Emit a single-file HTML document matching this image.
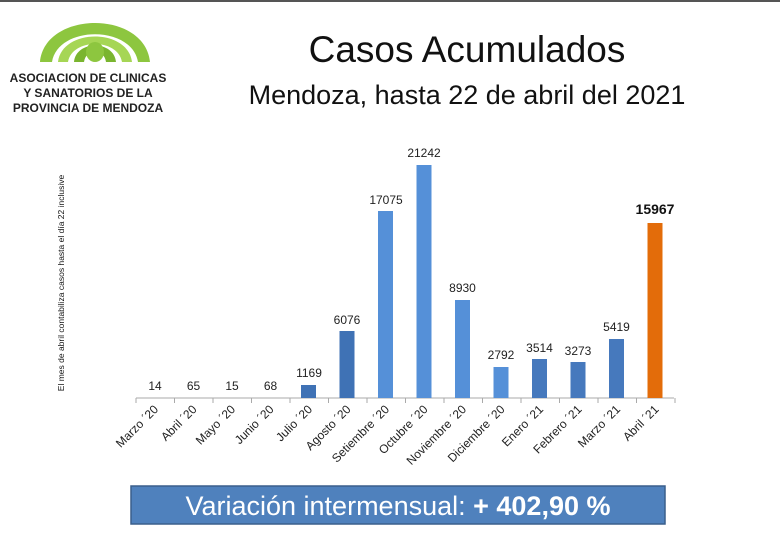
<!DOCTYPE html>
<html><head><meta charset="utf-8"><style>
body{margin:0;width:780px;height:549px;overflow:hidden;background:#fff;font-family:"Liberation Sans",sans-serif}
</style></head><body>
<svg width="780" height="549" xmlns="http://www.w3.org/2000/svg" font-family="Liberation Sans, sans-serif">
<rect x="0" y="0" width="780" height="2" fill="#555"/>
<g>
<path d="M40 62 C45 10,145 10,150 62 L138 62 C132 25,58 25,52 62 Z" fill="#8dc63f"/>
<path d="M58 62 C62 28,128 28,132 62 L122 62 C118 38,72 38,68 62 Z" fill="#a6d655"/>
<path d="M74 62 C76 40,114 40,116 62 L106 62 C104 48,86 48,84 62 Z" fill="#7ab52f"/>
<ellipse cx="95" cy="52" rx="9" ry="10" fill="#8dc63f"/>
<text x="88" y="82" font-size="12" font-weight="bold" text-anchor="middle" fill="#222">ASOCIACION DE CLINICAS</text>
<text x="88" y="97" font-size="12" font-weight="bold" text-anchor="middle" fill="#222">Y SANATORIOS DE LA</text>
<text x="88" y="112" font-size="12" font-weight="bold" text-anchor="middle" fill="#222">PROVINCIA DE MENDOZA</text>
</g>
<text x="467" y="62" font-size="37" text-anchor="middle" fill="#111">Casos Acumulados</text>
<text x="467" y="104" font-size="27" text-anchor="middle" fill="#111">Mendoza, hasta 22 de abril del 2021</text>
<text transform="translate(64,283) rotate(-90)" font-size="8.5" text-anchor="middle" fill="#111">El mes de abril contabiliza casos hasta el día  22  inclusive</text>
<line x1="136" y1="398" x2="674" y2="398" stroke="#aaa"/>
<g stroke="#aaa">
<line x1="136" y1="398" x2="136" y2="403"/><line x1="174.5" y1="398" x2="174.5" y2="403"/><line x1="213" y1="398" x2="213" y2="403"/><line x1="251.5" y1="398" x2="251.5" y2="403"/><line x1="290" y1="398" x2="290" y2="403"/><line x1="328.5" y1="398" x2="328.5" y2="403"/><line x1="367" y1="398" x2="367" y2="403"/><line x1="405.5" y1="398" x2="405.5" y2="403"/><line x1="444" y1="398" x2="444" y2="403"/><line x1="482.5" y1="398" x2="482.5" y2="403"/><line x1="521" y1="398" x2="521" y2="403"/><line x1="559.5" y1="398" x2="559.5" y2="403"/><line x1="598" y1="398" x2="598" y2="403"/><line x1="636.5" y1="398" x2="636.5" y2="403"/><line x1="675" y1="398" x2="675" y2="403"/>
</g>
<g>
<rect x="301" y="385" width="15" height="13" fill="#3f72b5"/>
<rect x="339.5" y="331" width="15" height="67" fill="#3f72b5"/>
<rect x="378" y="211" width="15" height="187" fill="#5590d8"/>
<rect x="416.5" y="165" width="15" height="233" fill="#5590d8"/>
<rect x="455" y="300" width="15" height="98" fill="#5590d8"/>
<rect x="493.5" y="367" width="15" height="31" fill="#5590d8"/>
<rect x="532" y="359" width="15" height="39" fill="#4679bd"/>
<rect x="570.5" y="362" width="15" height="36" fill="#4679bd"/>
<rect x="609" y="339" width="15" height="59" fill="#4679bd"/>
<rect x="647.5" y="223" width="15" height="175" fill="#e36c0a"/>
</g>
<g font-size="12" text-anchor="middle" fill="#222">
<text x="155" y="390">14</text><text x="193.5" y="390">65</text><text x="232" y="390">15</text><text x="270.5" y="390">68</text>
<text x="309" y="377">1169</text><text x="347" y="324">6076</text><text x="386" y="204">17075</text><text x="424" y="157">21242</text>
<text x="462.5" y="292">8930</text><text x="501" y="359">2792</text><text x="539.5" y="352">3514</text><text x="578" y="355">3273</text><text x="616.5" y="331">5419</text>
<text x="655" y="214" font-weight="bold" font-size="14" fill="#111">15967</text>
</g>
<g font-size="12" text-anchor="end" fill="#222">
<text transform="translate(159,410) rotate(-45)">Marzo ´20</text>
<text transform="translate(197.5,410) rotate(-45)">Abril ´20</text>
<text transform="translate(236,410) rotate(-45)">Mayo ´20</text>
<text transform="translate(274.5,410) rotate(-45)">Junio ´20</text>
<text transform="translate(313,410) rotate(-45)">Julio ´20</text>
<text transform="translate(351.5,410) rotate(-45)">Agosto ´20</text>
<text transform="translate(390,410) rotate(-45)">Setiembre ´20</text>
<text transform="translate(428.5,410) rotate(-45)">Octubre ´20</text>
<text transform="translate(467,410) rotate(-45)">Noviembre ´20</text>
<text transform="translate(505.5,410) rotate(-45)">Diciembre ´20</text>
<text transform="translate(544,410) rotate(-45)">Enero ´21</text>
<text transform="translate(582.5,410) rotate(-45)">Febrero ´21</text>
<text transform="translate(621,410) rotate(-45)">Marzo ´21</text>
<text transform="translate(659.5,410) rotate(-45)">Abril ´21</text>
</g>
<rect x="131" y="486" width="534" height="38" fill="#4f81bd" stroke="#3a5f8c" stroke-width="1.5"/>
<text x="398" y="515" font-size="27" text-anchor="middle" fill="#fff">Variación intermensual: <tspan font-weight="bold">+ 402,90 %</tspan></text>
</svg>
</body></html>
